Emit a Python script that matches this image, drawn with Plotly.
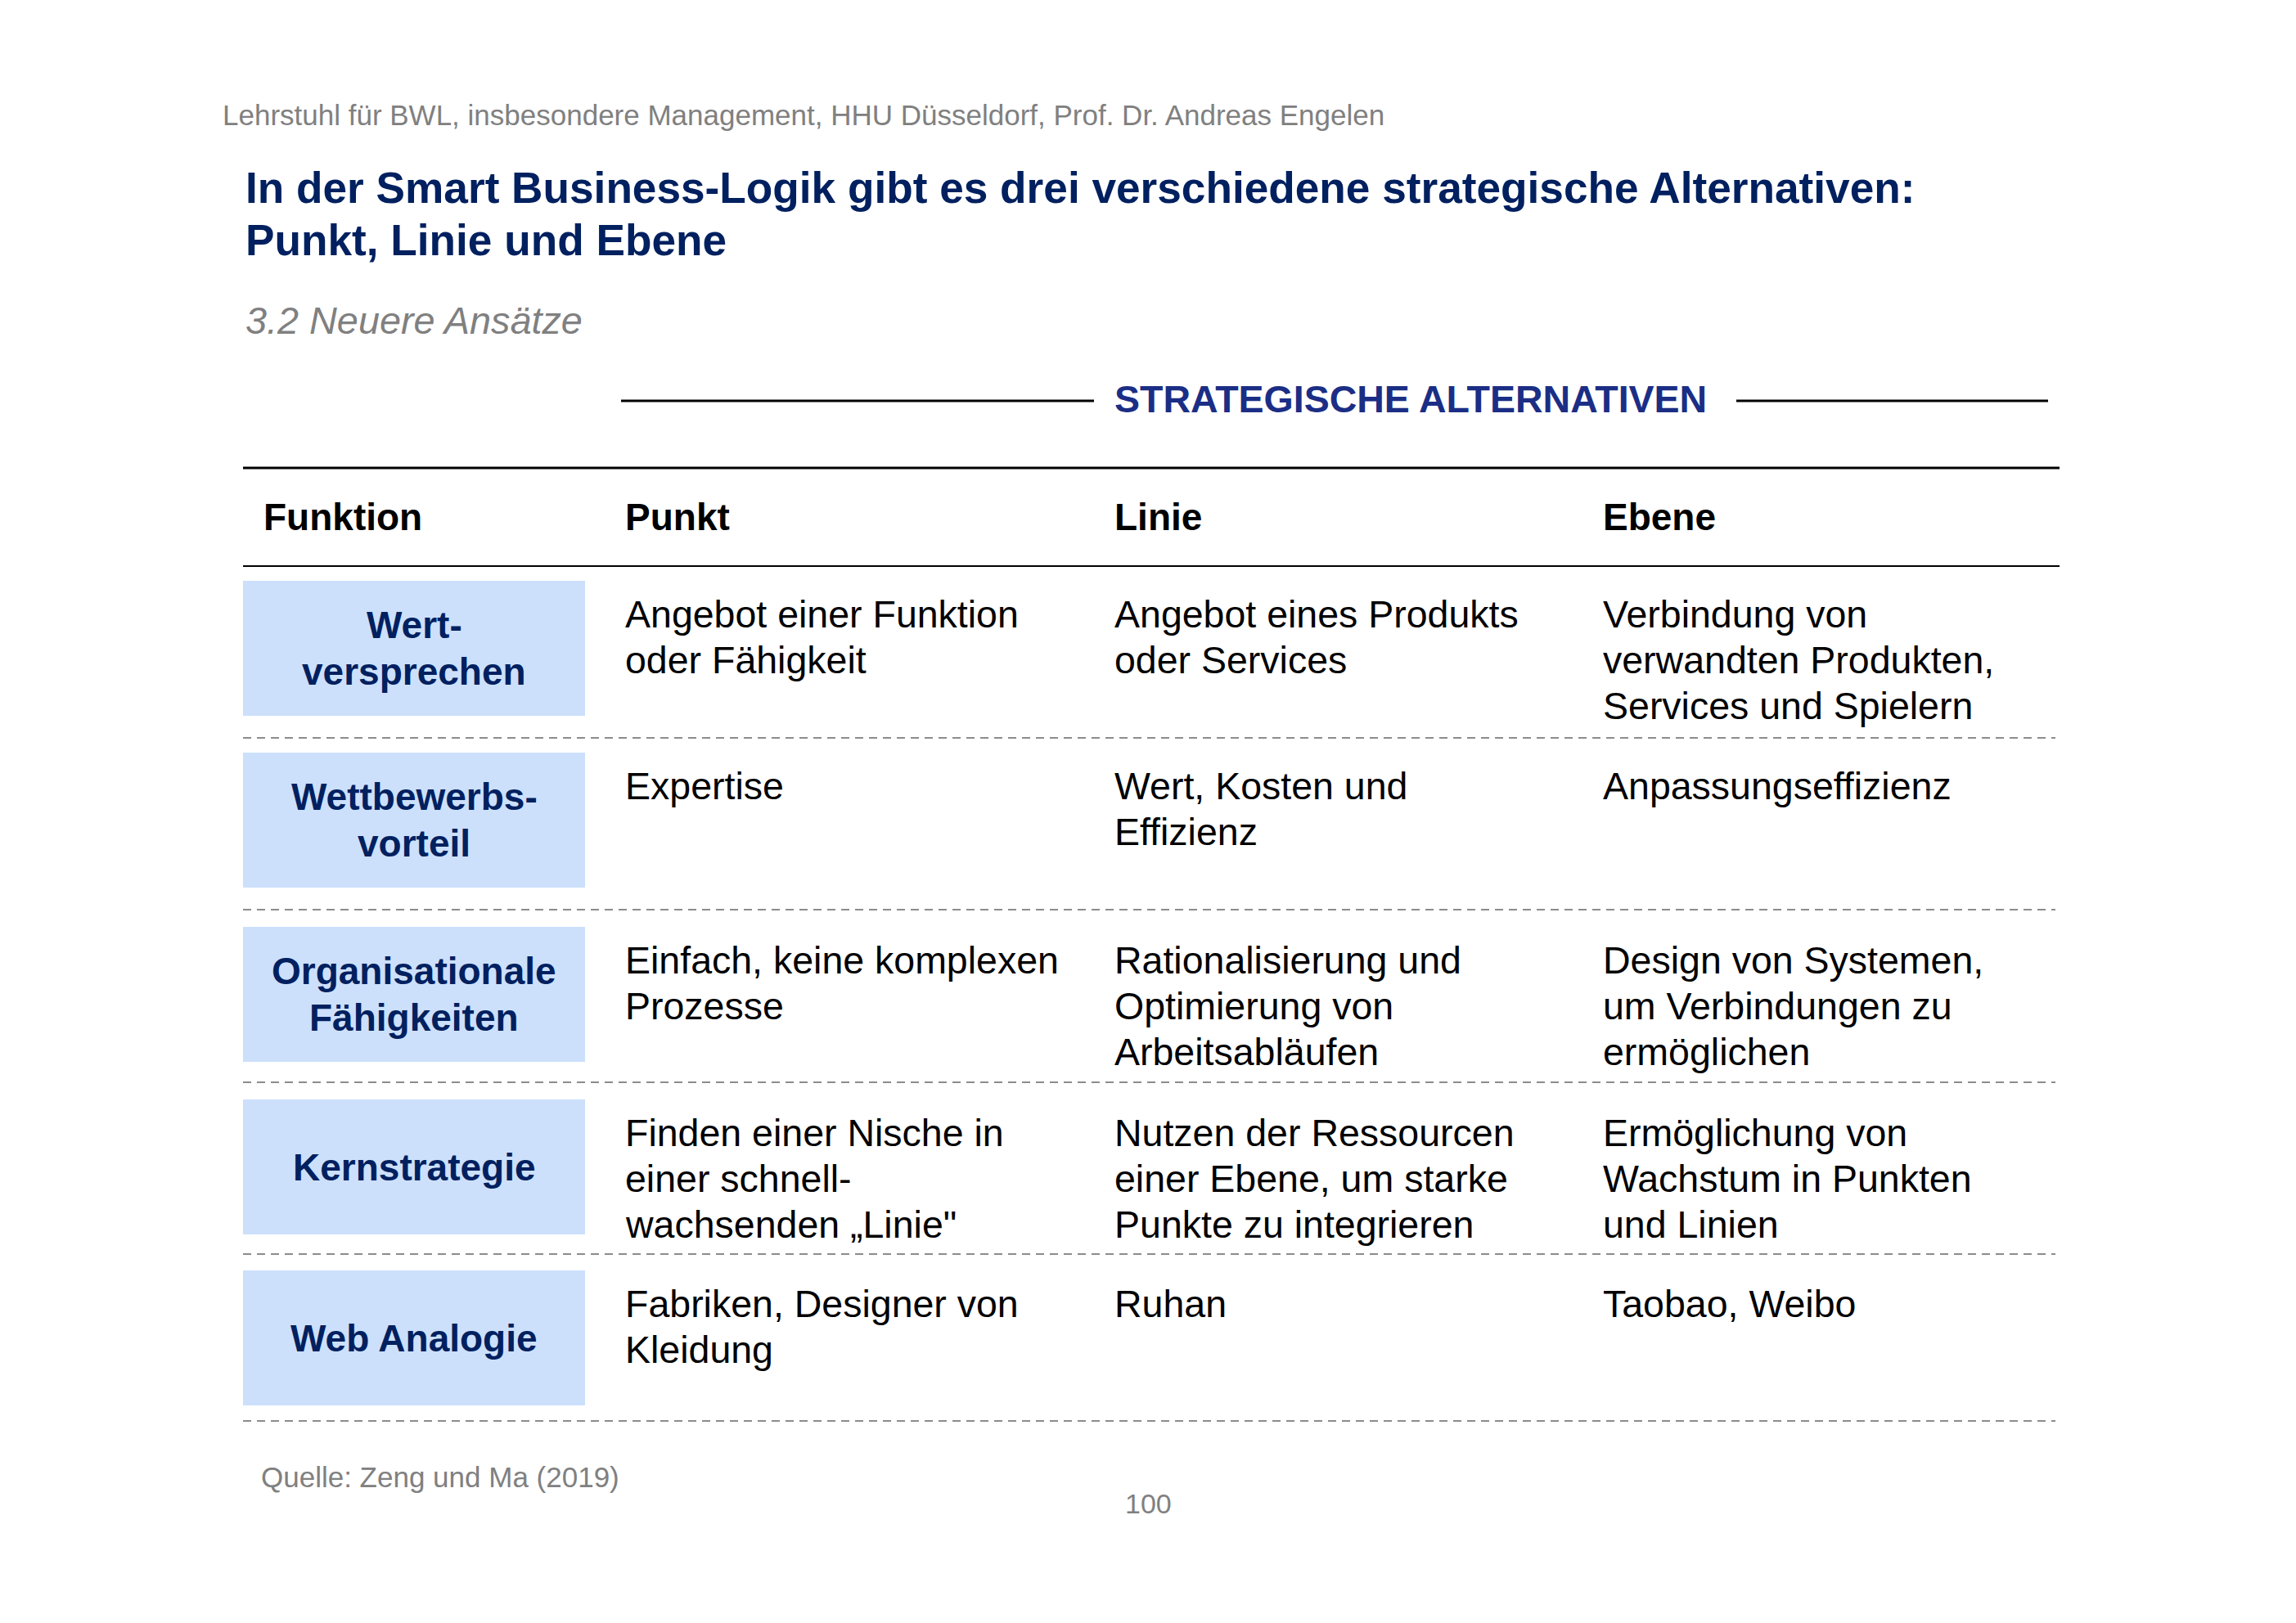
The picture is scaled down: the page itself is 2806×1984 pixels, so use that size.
import plotly.graph_objects as go

# ---------------- data ----------------
kopfzeile = "Lehrstuhl für BWL, insbesondere Management, HHU Düsseldorf, Prof. Dr. Andreas Engelen"
titel = ["In der Smart Business-Logik gibt es drei verschiedene strategische Alternativen:",
         "Punkt, Linie und Ebene"]
untertitel = "3.2 Neuere Ansätze"
gruppe = "STRATEGISCHE ALTERNATIVEN"
spalten = ["Funktion", "Punkt", "Linie", "Ebene"]
funktionen = ["Wert-<br>versprechen", "Wettbewerbs-<br>vorteil", "Organisationale<br>Fähigkeiten",
              "Kernstrategie", "Web Analogie"]
punkt = ["Angebot einer Funktion<br>oder Fähigkeit",
         "Expertise",
         "Einfach, keine komplexen<br>Prozesse",
         "Finden einer Nische in<br>einer schnell-<br>wachsenden „Linie\"",
         "Fabriken, Designer von<br>Kleidung"]
linie = ["Angebot eines Produkts<br>oder Services",
         "Wert, Kosten und<br>Effizienz",
         "Rationalisierung und<br>Optimierung von<br>Arbeitsabläufen",
         "Nutzen der Ressourcen<br>einer Ebene, um starke<br>Punkte zu integrieren",
         "Ruhan"]
ebene = ["Verbindung von<br>verwandten Produkten,<br>Services und Spielern",
         "Anpassungseffizienz",
         "Design von Systemen,<br>um Verbindungen zu<br>ermöglichen",
         "Ermöglichung von<br>Wachstum in Punkten<br>und Linien",
         "Taobao, Weibo"]
quelle = "Quelle: Zeng und Ma (2019)"
seite = "100"

# ---------------- layout constants ----------------
W, H = 2806, 1984
FONT = "Liberation Sans"
NAVY = "#00205f"
BLUE = "#1b2e85"
GRAY = "#808080"
BOXFILL = "#cce0fc"
DASH = "#8c8c8c"

head_x = [320, 762, 1360, 1957]
row_top = [710, 920, 1133, 1344, 1553]
row_dash = [902, 1112, 1323, 1533, 1737]
box_h = 165
box_x0, box_x1 = 297, 715
table_x0, table_x1 = 297, 2517
line_sp = 56
label_sp = 57

fig = go.Figure()
fig.add_trace(go.Scatter(x=[0, W], y=[0, H], mode="markers", marker=dict(opacity=0),
                         hoverinfo="skip", showlegend=False))

ann = []
shapes = []


def text(x, y, t, size, color="#000000", weight="normal", style="normal", xanchor="left"):
    ann.append(dict(x=x, y=y, xref="x", yref="y", text=t, showarrow=False,
                    xanchor=xanchor, yanchor="middle",
                    font=dict(family=FONT, size=size, color=color, weight=weight, style=style)))


def hline(x0, x1, y, width, color="#000000", dash="solid"):
    shapes.append(dict(type="line", xref="x", yref="y", x0=x0, x1=x1, y0=y, y1=y,
                       line=dict(color=color, width=width, dash=dash)))


# header texts
text(270, 140, kopfzeile, 35, GRAY)
text(298, 229, titel[0], 53.2, NAVY, weight="bold")
text(298, 293, titel[1], 53.2, NAVY, weight="bold")
text(298, 392, untertitel, 46.8, GRAY, style="italic")

# group heading with side lines
text(1724, 488, gruppe, 46.5, BLUE, weight="bold", xanchor="center")
hline(759, 1337, 490, 3)
hline(2122, 2503, 490, 3)

# table header
hline(table_x0, table_x1, 572, 3)
hline(table_x0, table_x1, 692, 2)
for cx, name in zip(head_x, spalten):
    text(cx, 632, name, 46, "#000000", weight="bold")

# rows
for i, top in enumerate(row_top):
    shapes.append(dict(type="rect", xref="x", yref="y", x0=box_x0, x1=box_x1,
                       y0=top, y1=top + box_h, fillcolor=BOXFILL, line=dict(width=0),
                       layer="below"))
    lines = funktionen[i].split("<br>")
    cy = top + box_h / 2
    start = cy - (len(lines) - 1) * label_sp / 2
    for k, ln in enumerate(lines):
        text((box_x0 + box_x1) / 2, start + k * label_sp, ln, 46, NAVY,
             weight="bold", xanchor="center")
    for cx, col in zip(head_x[1:], [punkt, linie, ebene]):
        for k, ln in enumerate(col[i].split("<br>")):
            text(cx, top + 41 + k * line_sp, ln, 46.5, "#000000")
    hline(table_x0, 2512, row_dash[i], 2, DASH, dash="10px,7px")

# footer
text(317, 1805, quelle, 35, GRAY)
text(1403, 1838, seite, 34, GRAY, xanchor="center")

fig.update_layout(
    width=W, height=H, margin=dict(l=0, r=0, t=0, b=0),
    paper_bgcolor="white", plot_bgcolor="white",
    xaxis=dict(range=[0, W], visible=False, fixedrange=True),
    yaxis=dict(range=[H, 0], visible=False, fixedrange=True),
    annotations=ann, shapes=shapes, showlegend=False,
)

fig.write_html("out.html", config={"displayModeBar": False},
               post_script="document.body.style.margin='0';document.body.style.overflow='hidden';")
